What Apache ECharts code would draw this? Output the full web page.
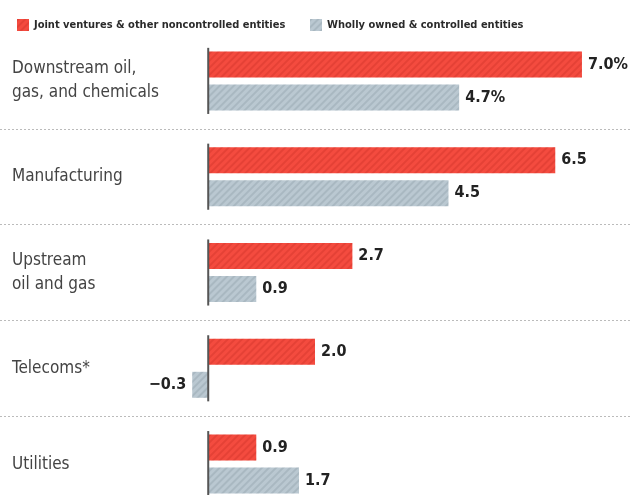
<!DOCTYPE html>
<html>
<head>
<meta charset="utf-8">
<style>
  html, body { margin: 0; padding: 0; background: #fff; }
  #main { width: 630px; height: 495px; }
</style>
</head>
<body>
<div id="main"></div>
<script src="https://cdn.jsdelivr.net/npm/echarts@6/dist/echarts.min.js"></script>
<script>
// data
var categories = ['Downstream oil,\ngas, and chemicals', 'Manufacturing', 'Upstream\noil and gas', 'Telecoms*', 'Utilities'];
var jointVentures = [7.0, 6.5, 2.7, 2.0, 0.9];
var whollyOwned = [4.7, 4.5, 0.9, -0.3, 1.7];
var seriesNames = ['Joint ventures & other noncontrolled entities', 'Wholly owned & controlled entities'];

var FONT = '"Liberation Sans Narrow", "DejaVu Sans Condensed", sans-serif';

function hatch(col) {
    return {
        symbol: 'rect',
        color: col,
        dashArrayX: [1, 0],
        dashArrayY: [2, 3],
        rotation: -Math.PI / 4
    };
}

function fmt(p) {
    var v = p.value;
    var s = (v < 0 ? '\u2212' : '') + Math.abs(v).toFixed(1);
    if (p.dataIndex === 0) s += '%';
    return s;
}

var legendText = { fontFamily: FONT, fontSize: 11, color: '#2a2a2a', fontWeight: 'bold' };

var myChart = echarts.init(document.getElementById('main'));

var option = {
    animation: false,
    legend: [
        {
            top: 14, left: 12, itemWidth: 12, itemHeight: 12, itemGap: 5,
            icon: 'rect', textStyle: legendText, data: [seriesNames[0]]
        },
        {
            top: 14, left: 305, itemWidth: 12, itemHeight: 12, itemGap: 5,
            icon: 'rect', textStyle: legendText, data: [seriesNames[1]]
        }
    ],
    grid: { left: 0, right: 0, top: 33, height: 479, outerBoundsMode: 'none' },
    xAxis: {
        type: 'value',
        min: -3.9,
        max: 7.9,
        show: false,
        splitLine: { show: false }
    },
    yAxis: {
        type: 'category',
        inverse: true,
        data: categories,
        axisLine: { show: false },
        axisTick: { show: false },
        axisLabel: {
            inside: true,
            margin: 12,
            fontFamily: FONT,
            fontSize: 17,
            lineHeight: 24,
            color: '#444'
        },
        splitLine: {
            show: true,
            interval: function (i) { return i > 0; },
            lineStyle: { color: '#bbb', type: [2, 2], width: 1 }
        }
    },
    series: [
        {
            name: seriesNames[0],
            type: 'bar',
            data: jointVentures,
            barWidth: 26,
            barGap: '27%',
            itemStyle: { color: '#f44b3f', decal: hatch('rgba(160,20,10,0.18)') },
            label: {
                show: true, position: 'right', distance: 6, formatter: fmt,
                fontFamily: FONT, fontSize: 16, fontWeight: 'bold', color: '#222'
            }
        },
        {
            name: seriesNames[1],
            type: 'bar',
            data: whollyOwned.map(function (v) {
                return v < 0 ? { value: v, label: { position: 'left' } } : v;
            }),
            barWidth: 26,
            itemStyle: { color: '#bac8d1', decal: hatch('rgba(80,100,115,0.16)') },
            label: {
                show: true, position: 'right', distance: 6, formatter: fmt,
                fontFamily: FONT, fontSize: 16, fontWeight: 'bold', color: '#222'
            }
        },
        {
            // zero line, one piece per group
            type: 'custom',
            silent: true,
            data: categories.map(function (c, i) { return [0, i]; }),
            encode: { x: 0, y: 1 },
            renderItem: function (params, api) {
                var p = api.coord([0, api.value(1)]);
                var h = api.size([0, 1])[1];
                var half = h * 0.345;
                return {
                    type: 'line',
                    shape: { x1: p[0], y1: p[1] - half, x2: p[0], y2: p[1] + half },
                    style: { stroke: '#555', lineWidth: 2 }
                };
            },
            z: 5
        }
    ]
};

myChart.setOption(option);
</script>
</body>
</html>
